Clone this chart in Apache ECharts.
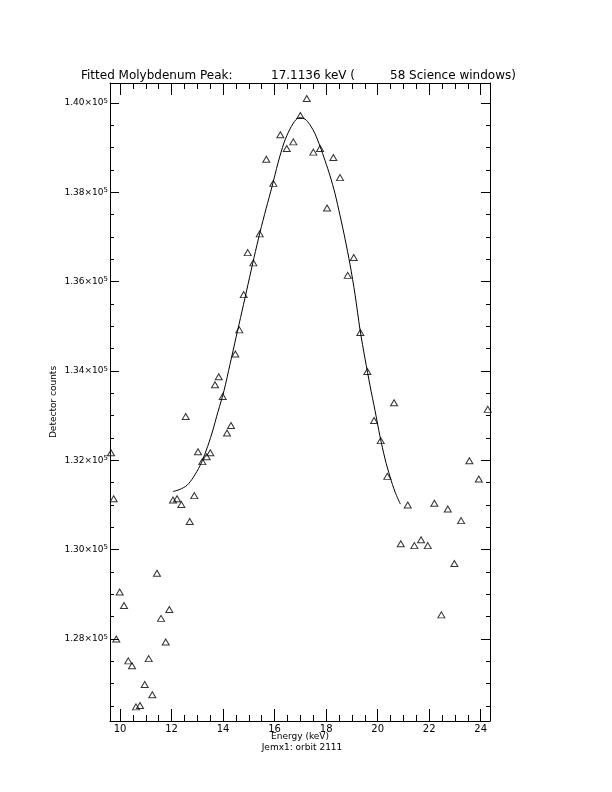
<!DOCTYPE html>
<html><head><meta charset="utf-8">
<script src="https://cdn.jsdelivr.net/npm/echarts@6/dist/echarts.min.js"></script>
<style>html,body{margin:0;padding:0;background:#fff}#c{width:612px;height:792px}</style>
</head><body><div id="c"></div>
<script>
// Observed detector counts (triangles)
const OBS_E = [9.650,9.755,9.856,9.988,10.155,10.322,10.466,10.621,10.776,10.959,
  11.114,11.254,11.436,11.592,11.774,11.914,12.057,12.213,12.380,12.550,
  12.706,12.884,13.028,13.195,13.366,13.505,13.688,13.832,13.987,14.154,
  14.309,14.476,14.631,14.802,14.957,15.175,15.423,15.679,15.951,16.223,
  16.471,16.727,16.999,17.248,17.504,17.764,18.036,18.280,18.540,18.839,
  19.072,19.328,19.600,19.860,20.120,20.376,20.637,20.897,21.168,21.425,
  21.685,21.945,22.201,22.473,22.721,22.977,23.238,23.560,23.925,24.274];
const OBS_C = [132170,131140,128000,129050,128750,127510,127400,126480,126510,126980,
  127560,126750,129470,128460,127930,128660,131110,131140,131010,132980,
  130630,131210,132190,131970,132080,132170,133690,133870,133430,132610,
  132780,134380,134920,135710,136650,136420,137070,138740,138200,139290,
  138980,139130,139720,140100,138900,138980,137650,138780,138330,136140,
  136540,134860,133990,132890,132440,131640,133290,130130,131000,130090,
  130220,130090,131040,128540,130910,129690,130650,131990,131580,133140];
// Fitted peak curve
const FIT_E = [12.057,12.329,12.601,12.834,13.106,13.339,13.571,13.804,14.037,14.270,
  14.503,14.736,14.969,15.202,15.435,15.668,15.901,16.134,16.366,16.599,
  16.832,16.988,17.182,17.376,17.570,17.764,17.958,18.152,18.346,18.540,
  18.734,18.929,19.123,19.317,19.511,19.705,19.899,20.093,20.287,20.481,
  20.675,20.881];
const FIT_C = [131300,131350,131440,131610,131880,132210,132610,133090,133560,134150,
  134750,135340,135940,136540,137110,137630,138130,138660,139110,139420,
  139630,139670,139640,139510,139310,139030,138710,138370,137970,137480,
  136960,136380,135710,134920,134270,133670,133110,132530,132030,131630,
  131290,131020];
// Axes
const X_MIN = 9.612, X_MAX = 24.36;
const Y_MIN = 126163, Y_MAX = 140448;
const X_MAJOR = [10,12,14,16,18,20,22,24];
const X_MINOR = [10.5,11,11.5,12.5,13,13.5,14.5,15,15.5,16.5,17,17.5,18.5,19,19.5,20.5,21,21.5,22.5,23,23.5];
const Y_MAJOR = [128000,130000,132000,134000,136000,138000,140000];
const Y_MINOR = [126500,127000,127500,128500,129000,129500,130500,131000,131500,132500,133000,133500,
  134500,135000,135500,136500,137000,137500,138500,139000,139500];
const TITLE_PARTS = ['Fitted Molybdenum Peak:', '17.1136 keV (', '58 Science windows)'];
const X_NAME = 'Energy (keV)';
const X_SUB = 'Jemx1: orbit 2111';
const Y_NAME = 'Detector counts';

const FF = '"DejaVu Sans", sans-serif';
const chart = echarts.init(document.getElementById('c'), null, {renderer: 'canvas'});
const gridRect = {left: 110, top: 83, width: 380, height: 638, outerBoundsMode: 'none'};
const blk = {color: '#000', width: 1};

function xAx(grid, pos, vals, len, line, labels) {
  return {type: 'value', gridIndex: grid, position: pos, min: X_MIN, max: X_MAX,
    axisLine: {show: line, lineStyle: blk},
    axisTick: {show: true, inside: true, length: len, customValues: vals, lineStyle: blk},
    axisLabel: labels ? {show: true, customValues: vals, margin: 3, color: '#000', fontFamily: FF, fontSize: 10} : {show: false},
    splitLine: {show: false}};
}
function yAx(grid, pos, vals, len, line, labels) {
  return {type: 'value', gridIndex: grid, position: pos, min: Y_MIN, max: Y_MAX,
    axisLine: {show: line, lineStyle: blk},
    axisTick: {show: true, inside: true, length: len, customValues: vals, lineStyle: blk},
    axisLabel: labels ? {show: true, customValues: vals, margin: 2, color: '#000',
      formatter: v => '{m|' + (v / 1e5).toFixed(2) + '×10}{s|5}',
      rich: {m: {fontFamily: FF, fontSize: 9, color: '#000', lineHeight: 11},
             s: {fontFamily: FF, fontSize: 7, color: '#000', lineHeight: 7, verticalAlign: 'top'}}} : {show: false},
    splitLine: {show: false}};
}

chart.setOption({
  backgroundColor: '#fff',
  animation: false,
  grid: [Object.assign({}, gridRect), Object.assign({}, gridRect)],
  xAxis: [
    xAx(0, 'bottom', X_MAJOR, 12, true, true),
    xAx(0, 'top', X_MAJOR, 12, true, false),
    xAx(1, 'bottom', X_MINOR, 6, false, false),
    xAx(1, 'top', X_MINOR, 6, false, false)
  ],
  yAxis: [
    yAx(0, 'left', Y_MAJOR, 9, true, true),
    yAx(0, 'right', Y_MAJOR, 9, true, false),
    yAx(1, 'left', Y_MINOR, 4, false, false),
    yAx(1, 'right', Y_MINOR, 4, false, false)
  ],
  series: [
    {type: 'line', xAxisIndex: 0, yAxisIndex: 0, data: FIT_E.map((e, i) => [e, FIT_C[i]]),
      showSymbol: false, smooth: 0.3, lineStyle: {color: '#000', width: 1}, silent: true},
    {type: 'scatter', xAxisIndex: 0, yAxisIndex: 0, data: OBS_E.map((e, i) => [e, OBS_C[i]]),
      symbol: 'triangle', symbolSize: [7, 6],
      itemStyle: {color: 'rgba(0,0,0,0)', borderColor: '#000', borderWidth: 1}, silent: true}
  ],
  graphic: [
    {type: 'text', x: 81, y: 76, style: {text: TITLE_PARTS[0], font: '12px ' + FF, fill: '#000', align: 'left', verticalAlign: 'middle'}},
    {type: 'text', x: 271, y: 76, style: {text: TITLE_PARTS[1], font: '12px ' + FF, fill: '#000', align: 'left', verticalAlign: 'middle'}},
    {type: 'text', x: 390, y: 76, style: {text: TITLE_PARTS[2], font: '12px ' + FF, fill: '#000', align: 'left', verticalAlign: 'middle'}},
    {type: 'text', x: 300, y: 737, style: {text: X_NAME, font: '9px ' + FF, fill: '#000', align: 'center', verticalAlign: 'middle'}},
    {type: 'text', x: 302, y: 748, style: {text: X_SUB, font: '9px ' + FF, fill: '#000', align: 'center', verticalAlign: 'middle'}},
    {type: 'text', x: 54, y: 402, rotation: Math.PI / 2, style: {text: Y_NAME, font: '9px ' + FF, fill: '#000', align: 'center', verticalAlign: 'middle'}}
  ]
});
</script></body></html>
